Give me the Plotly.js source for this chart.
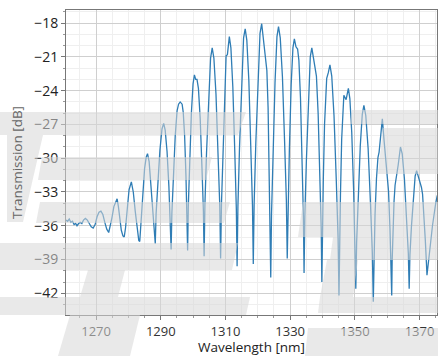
<!DOCTYPE html>
<html><head><meta charset="utf-8">
<script src="https://cdn.plot.ly/plotly-3.0.1.min.js"></script>
<style>html,body{margin:0;padding:0;background:#fff}#chart{width:438px;height:356px}</style>
</head><body><div id="chart"></div>
<script>
var wavelength = [
1260.7,1261.2,1261.7,1262.2,1262.7,1263.2,1263.7,1264.1,1264.6,1265.1,1265.6,1266.1,1266.7,1267.3,1267.9,1268.5,1269.1,1269.7,1270.3,1270.9,
1271.5,1272.1,1272.7,1273.3,1273.9,1274.4,1274.9,1275.5,1276.0,1276.5,1276.9,1277.3,1277.8,1278.3,1278.7,1279.1,1279.6,1280.2,1280.9,1281.5,
1282.1,1282.7,1283.2,1283.5,1283.9,1284.4,1285.0,1285.5,1285.9,1286.4,1286.9,1287.4,1287.9,1288.3,
1288.56,1289.08,1289.73,1290.38,1290.9,1291.36,1291.94,1292.51,1292.97,1293.2,
1293.43,1293.89,1294.47,1295.04,1295.5,1296.0,1296.6,1296.94,1297.37,1297.79,1298.13,1298.3,
1298.51,1298.93,1299.46,1299.98,1300.4,1300.8,1301.2,1301.64,1302.19,1302.74,1303.18,1303.4,
1303.65,1304.15,1304.78,1305.4,1305.9,1306.42,1307.07,1307.72,1308.24,1308.5,
1308.77,1309.31,1309.9,1310.2,1310.6,1311.2,1311.68,1312.28,1312.88,1313.36,1313.6,
1313.85,1314.35,1314.98,1315.6,1316.1,1316.6,1317.23,1317.85,1318.35,1318.6,
1318.86,1319.38,1320.03,1320.68,1321.2,1321.6,1322.0,1322.5,1322.8,1323.18,1323.55,1323.85,1324.0,
1324.24,1324.72,1325.32,1325.92,1326.4,1326.94,1327.62,1328.29,1328.83,1329.1,
1329.32,1329.76,1330.31,1330.86,1331.3,1331.8,1332.3,1332.7,1333.2,1333.7,1334.1,1334.3,
1334.54,1335.02,1335.62,1336.22,1336.7,1337.2,1337.7,1338.12,1338.65,1339.17,1339.6,1339.8,
1339.95,1340.25,1340.63,1341.0,1341.3,1341.8,1342.3,1342.86,1343.56,1344.26,1344.82,1345.1,
1345.25,1345.55,1345.93,1346.3,1346.6,1347.3,1348.0,1348.46,1349.04,1349.61,1350.07,1350.3,
1350.55,1351.05,1351.68,1352.3,1352.8,1353.38,1354.1,1354.83,1355.41,1355.7,
1355.88,1356.24,1356.69,1357.14,1357.5,1358.0,1358.5,1359.0,1359.6,1359.96,1360.41,1360.86,1361.22,1361.4,
1361.53,1361.79,1362.12,1362.44,1362.7,1363.4,1364.1,1364.64,1365.32,1365.99,1366.53,1366.8,
1367.03,1367.49,1368.07,1368.64,1369.1,1369.8,1370.6,1370.94,1371.37,1371.79,1372.13,1372.3,
1373.0,1374.0,1375.0,1375.5
];
var transmission = [
-35.5,-35.6,-35.4,-35.7,-35.6,-35.9,-35.8,-36.0,-35.8,-35.7,-35.8,-35.5,-35.35,-35.5,-35.8,-36.1,-36.2,-35.9,-35.2,-34.8,
-34.7,-35.0,-35.7,-36.3,-36.6,-36.0,-35.3,-34.3,-33.9,-33.6,-34.3,-35.4,-36.4,-36.9,-37.0,-36.2,-34.5,-32.8,-32.1,-33.0,
-34.7,-36.3,-37.3,-37.4,-35.6,-33.0,-30.9,-29.9,-29.6,-30.3,-32.3,-34.5,-36.5,-37.6,
-34.9,-32.3,-29.3,-27.4,-26.9,-27.5,-29.4,-32.5,-35.3,-38.1,
-34.9,-31.6,-28.0,-25.8,-25.2,-25.0,-25.2,-25.9,-28.0,-31.6,-34.9,-38.2,
-34.3,-30.4,-26.0,-23.4,-22.6,-23.0,-23.0,-23.8,-26.5,-30.9,-34.7,-38.7,
-34.1,-29.5,-24.3,-21.1,-20.2,-21.1,-24.3,-29.6,-34.2,-38.9,
-34.0,-29.1,-22.5,-20.9,-20.8,-19.2,-20.2,-23.7,-29.4,-34.5,-39.6,
-34.3,-29.0,-23.1,-19.3,-18.5,-19.5,-23.1,-29.0,-34.2,-39.4,
-34.1,-28.7,-22.9,-18.9,-18.05,-19.0,-20.3,-21.2,-22.2,-25.5,-30.9,-35.8,-40.6,
-35.0,-29.4,-23.3,-19.2,-18.3,-19.3,-22.8,-28.6,-33.75,-38.9,
-34.0,-29.2,-23.5,-20.2,-19.4,-20.1,-20.3,-21.3,-24.7,-30.3,-35.2,-40.2,
-35.2,-30.2,-24.6,-21.0,-20.2,-21.2,-21.75,-22.7,-26.0,-31.4,-36.2,-41.0,
-36.5,-31.9,-27.0,-23.7,-22.9,-22.4,-21.7,-22.7,-26.2,-31.95,-37.1,-42.2,
-37.7,-33.3,-28.3,-25.1,-24.4,-24.8,-23.8,-24.7,-27.7,-32.7,-37.15,-41.6,
-37.5,-33.45,-28.9,-26.1,-25.3,-26.2,-29.1,-34.0,-38.4,-42.75,
-38.75,-35.0,-31.8,-29.95,-29.45,-27.8,-26.5,-28.3,-30.3,-30.9,-32.9,-36.25,-39.2,-42.2,
-39.2,-36.3,-33.8,-32.4,-32.0,-30.6,-29.0,-29.6,-31.8,-35.3,-38.45,-41.6,
-38.6,-36.1,-33.3,-31.6,-31.1,-31.8,-32.6,-33.2,-35.0,-37.3,-39.3,-40.4,
-38.6,-36.0,-34.0,-33.3
];
var xTickVals = [1270, 1290, 1310, 1330, 1350, 1370];
var yTickVals = [-42, -39, -36, -33, -30, -27, -24, -21, -18];

// light watermark overlay (pixel polygons of the page, converted to paper fractions)
var PL = 66, PT = 10, PW = 371, PH = 305;
var wmPolys = [
  [[0,112],[246,112],[238,135],[0,135]],
  [[7,135],[43,135],[23,222],[7,222]],
  [[42,157],[212,157],[206,180],[38,180]],
  [[40,202],[230,202],[224,223],[36,223]],
  [[0,243],[238,243],[232,270],[0,270]],
  [[88,270],[125,270],[118,297],[80,297]],
  [[0,297],[250,297],[246,315],[0,315]],
  [[70,315],[140,315],[130,356],[58,356]],
  [[352,110],[438,110],[438,124],[350,124]],
  [[383,128],[438,128],[438,174],[378,174]],
  [[303,202],[438,202],[438,237],[298,237]],
  [[333,237],[438,237],[438,260],[330,260]],
  [[327,260],[358,260],[353,297],[320,297]],
  [[320,297],[438,297],[438,313],[318,313]],
  [[308,328],[438,328],[438,356],[305,356]]
];
var shapes = wmPolys.map(function(poly){
  var d = poly.map(function(p, i){
    var X = (p[0]-PL)/PW, Y = (PT+PH-p[1])/PH;
    return (i===0?'M':'L') + X.toFixed(4) + ',' + Y.toFixed(4);
  }).join(' ') + ' Z';
  return {type:'path', xref:'paper', yref:'paper', path:d, layer:'above',
          fillcolor:'rgba(215,215,215,0.55)', line:{width:0}};
});

var trace = {
  x: wavelength, y: transmission, type: 'scatter', mode: 'lines',
  line: {color: '#2f7db5', width: 1.3}, hoverinfo: 'skip'
};
var fontFam = '"Open Sans", "DejaVu Sans", sans-serif';
var layout = {
  width: 438, height: 356,
  margin: {l: 66, r: 1, t: 10, b: 41, pad: 0},
  paper_bgcolor: '#ffffff', plot_bgcolor: '#ffffff',
  showlegend: false,
  font: {family: fontFam, size: 13, color: '#222'},
  shapes: shapes,
  xaxis: {
    range: [1260.7, 1375.4], tickmode: 'array', tickvals: xTickVals,
    ticks: 'outside', ticklen: 4, tickcolor: '#777', tickwidth: 1,
    showline: true, linecolor: '#777', linewidth: 1, mirror: true,
    showgrid: true, gridcolor: '#cfcfcf', gridwidth: 1, zeroline: false,
    minor: {dtick: 5, tick0: 1270, showgrid: true, gridcolor: '#efefef', ticks: 'outside', ticklen: 2, tickcolor: '#999'},
    tickfont: {family: fontFam, size: 13, color: '#333'},
    title: {text: 'Wavelength [nm]', font: {family: fontFam, size: 13.5, color: '#222'}, standoff: 3}
  },
  yaxis: {
    range: [-43.93, -16.83], tickmode: 'array', tickvals: yTickVals,
    ticks: 'outside', ticklen: 4, tickcolor: '#777', tickwidth: 1,
    showline: true, linecolor: '#777', linewidth: 1, mirror: true,
    showgrid: true, gridcolor: '#cfcfcf', gridwidth: 1, zeroline: false,
    minor: {dtick: 1, tick0: -18, showgrid: true, gridcolor: '#efefef', ticks: 'outside', ticklen: 2, tickcolor: '#999'},
    tickfont: {family: fontFam, size: 14, color: '#222'},
    title: {text: 'Transmission [dB]', font: {family: fontFam, size: 13.5, color: '#666'}, standoff: 8}
  }
};
Plotly.newPlot('chart', [trace], layout, {staticPlot: true, displayModeBar: false});
</script></body></html>
